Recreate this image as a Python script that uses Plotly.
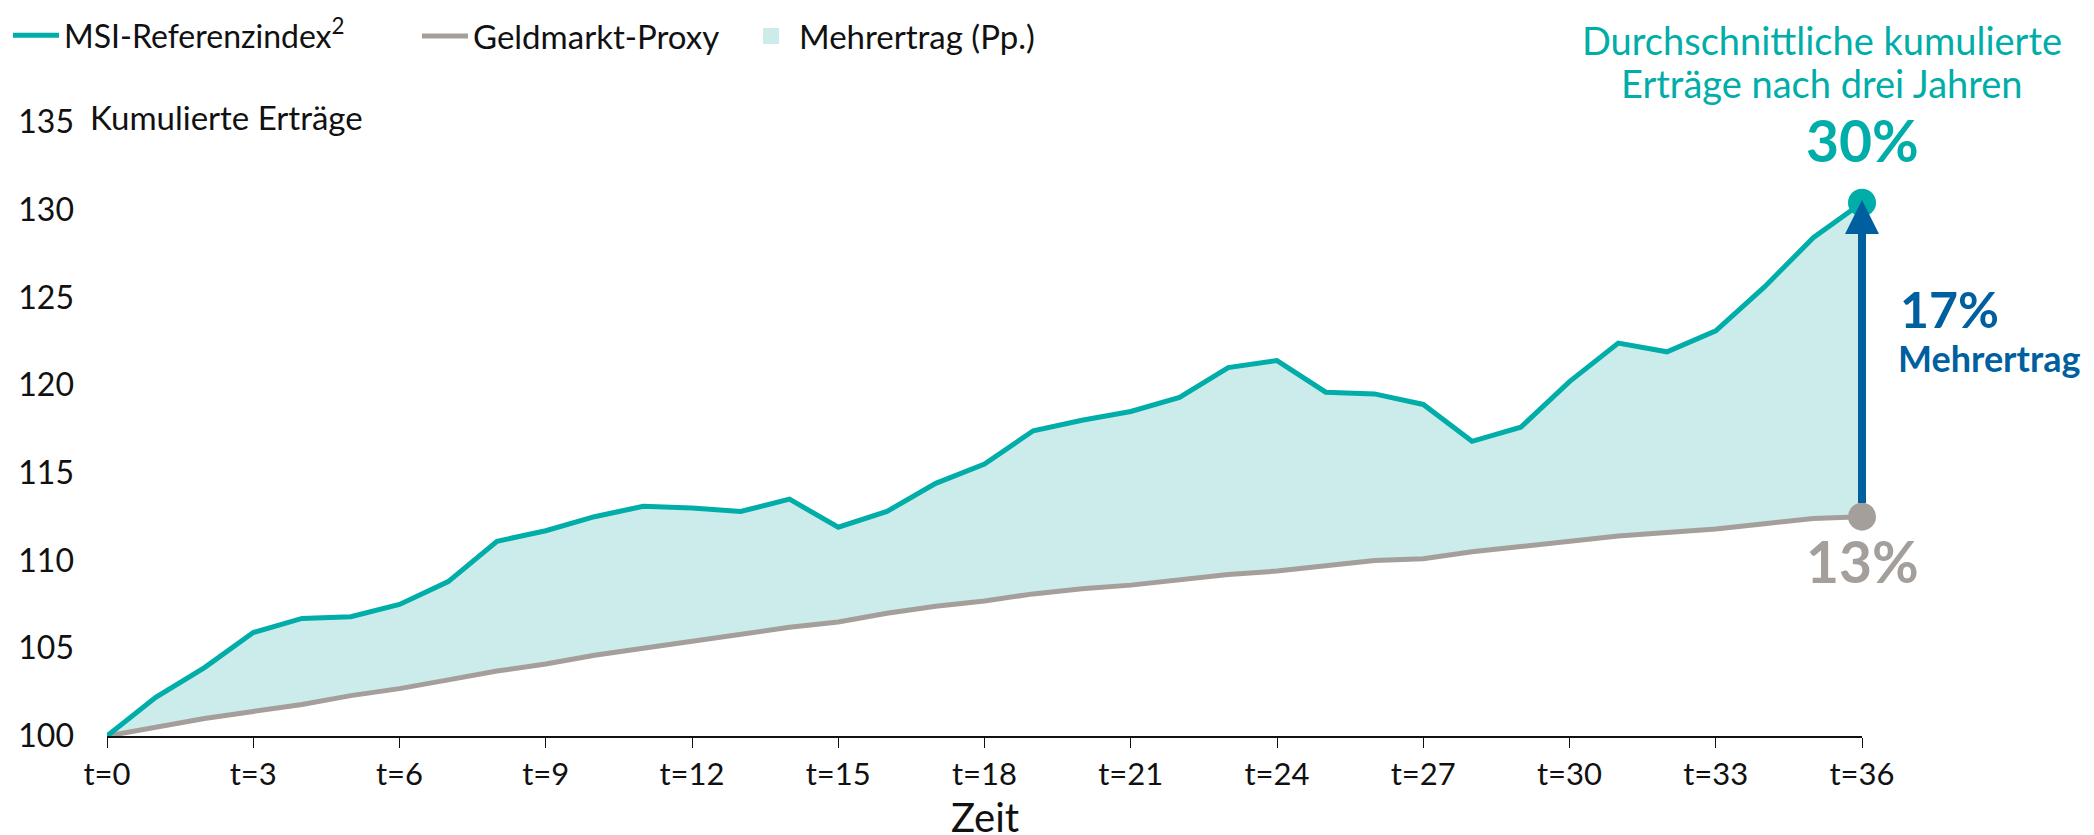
import plotly.graph_objects as go

months = list(range(0, 37))
msi = [100.0, 102.2, 103.9, 105.9, 106.7, 106.8, 107.5, 108.8, 111.1, 111.7,
       112.5, 113.1, 113.0, 112.8, 113.5, 111.9, 112.8, 114.4, 115.5, 117.4,
       118.0, 118.5, 119.3, 121.0, 121.4, 119.6, 119.5, 118.9, 116.8, 117.6,
       120.2, 122.4, 121.9, 123.1, 125.6, 128.4, 130.4]
geld = [100.0, 100.5, 101.0, 101.4, 101.8, 102.3, 102.7, 103.2, 103.7, 104.1,
        104.6, 105.0, 105.4, 105.8, 106.2, 106.5, 107.0, 107.4, 107.7, 108.1,
        108.4, 108.6, 108.9, 109.2, 109.4, 109.7, 110.0, 110.1, 110.5, 110.8,
        111.1, 111.4, 111.6, 111.8, 112.1, 112.4, 112.5]
xtick_vals = list(range(0, 37, 3))
xtick_text = [f"t={v}" for v in xtick_vals]
ytick_vals = [100, 105, 110, 115, 120, 125, 130, 135]

TEAL = "#00ada8"
GRAY = "#a59f9b"
FILL = "#cbecea"
BLUE = "#005f9f"
FONT = "Lato"
BLACK = "#111111"

# page body has an 8px margin, so the figure is 8px smaller than the window
W, H = 2086, 827

fig = go.Figure()
fig.add_trace(go.Scatter(x=months, y=geld, mode="lines", name="Geldmarkt-Proxy",
                         line=dict(color=GRAY, width=5), legend="legend2"))
fig.add_trace(go.Scatter(x=months, y=msi, mode="lines", name="Mehrertrag (Pp.)",
                         line=dict(width=0), fill="tonexty", fillcolor=FILL, showlegend=False))
fig.add_trace(go.Scatter(x=months, y=msi, mode="lines", name="MSI-Referenzindex<sup>2</sup>",
                         line=dict(color=TEAL, width=5), legend="legend"))
# legend entry for the filled area
fig.add_trace(go.Scatter(x=[None], y=[None], mode="markers", name="Mehrertrag (Pp.)",
                         marker=dict(color=FILL, size=24, symbol="square"), legend="legend3"))
fig.add_trace(go.Scatter(x=[months[-1]], y=[msi[-1]], mode="markers", showlegend=False,
                         marker=dict(color=TEAL, size=28), cliponaxis=False))
fig.add_trace(go.Scatter(x=[months[-1]], y=[geld[-1]], mode="markers", showlegend=False,
                         marker=dict(color=GRAY, size=28), cliponaxis=False))

# arrow
fig.add_annotation(x=months[-1], y=msi[-1] + 0.15, ax=months[-1], ay=geld[-1] + 0.7,
                   xref="x", yref="y", axref="x", ayref="y", text="", showarrow=True,
                   arrowhead=2, arrowsize=0.85, arrowwidth=8, arrowcolor=BLUE, standoff=0)

fig.add_annotation(x=months[-1], y=134.0, xref="x", yref="y", text="<b>30%</b>",
                   showarrow=False, font=dict(family=FONT, size=57, color=TEAL))
fig.add_annotation(x=months[-1], y=110.0, xref="x", yref="y", text="<b>13%</b>",
                   showarrow=False, font=dict(family=FONT, size=57, color=GRAY))
fig.add_annotation(x=1.0205, y=124.35, xref="paper", yref="y", text="<b>17%</b>", xanchor="left",
                   showarrow=False, font=dict(family=FONT, size=50, color=BLUE))
fig.add_annotation(x=1.0195, y=121.55, xref="paper", yref="y", text="<b>Mehrertrag</b>", xanchor="left",
                   showarrow=False, font=dict(family=FONT, size=36, color=BLUE))
fig.add_annotation(x=0.977, y=1.1336, xref="paper", yref="paper", xanchor="center", yanchor="middle",
                   text="Durchschnittliche kumulierte",
                   showarrow=False, font=dict(family=FONT, size=38, color=TEAL))
fig.add_annotation(x=0.977, y=1.0635, xref="paper", yref="paper", xanchor="center", yanchor="middle",
                   text="Erträge nach drei Jahren",
                   showarrow=False, font=dict(family=FONT, size=38, color=TEAL))
fig.add_annotation(x=-0.011, y=1.008, xref="paper", yref="paper", xanchor="left", yanchor="middle",
                   text="Kumulierte Erträge", showarrow=False,
                   font=dict(family=FONT, size=33, color=BLACK))
# x-axis title "Zeit"
fig.add_annotation(x=0.5, y=-0.132, xref="paper", yref="paper", xanchor="center", yanchor="middle",
                   text="Zeit", showarrow=False,
                   font=dict(family=FONT, size=40, color=BLACK))

leg_common = dict(orientation="h", xref="container", yref="container",
                  y=1.0, xanchor="left", yanchor="top", itemwidth=46,
                  bgcolor="rgba(0,0,0,0)")

fig.update_layout(
    width=W, height=H,
    margin=dict(l=99, r=232, t=114, b=99, autoexpand=False),
    paper_bgcolor="white", plot_bgcolor="white",
    font=dict(family=FONT, size=32, color=BLACK),
    showlegend=True,
    legend=dict(x=-5 / W, font=dict(family=FONT, size=32, color=BLACK), **leg_common),
    legend2=dict(x=409 / W, font=dict(family=FONT, size=33, color=BLACK), **leg_common),
    legend3=dict(x=735 / W, font=dict(family=FONT, size=33, color=BLACK), **leg_common),
    xaxis=dict(range=[0, 36], tickvals=xtick_vals, ticktext=xtick_text,
               showgrid=False, zeroline=False, showline=True, linecolor=BLACK,
               linewidth=1.5, ticks="outside", ticklen=10, tickcolor=BLACK,
               tickwidth=1.2, tickfont=dict(family=FONT, size=31, color=BLACK)),
    yaxis=dict(range=[100, 135], tickvals=ytick_vals, showgrid=False, zeroline=False,
               showline=False, ticks="", ticklabelstandoff=32,
               tickfont=dict(family=FONT, size=32, color=BLACK)),
)

fig.write_html("out.html")
